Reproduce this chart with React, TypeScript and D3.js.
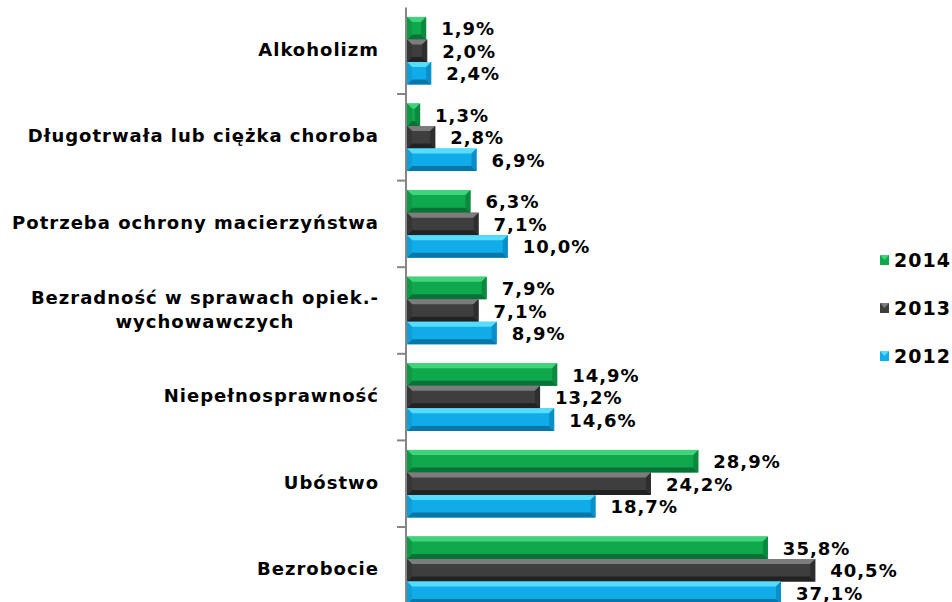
import React, { useEffect, useRef } from 'react';
import { select, scaleLinear, scaleBand } from 'd3';

const categories = [
  'Alkoholizm',
  'Długotrwała lub ciężka choroba',
  'Potrzeba ochrony macierzyństwa',
  'Bezradność w sprawach opiek.-|wychowawczych',
  'Niepełnosprawność',
  'Ubóstwo',
  'Bezrobocie',
];
const years = ['2014', '2013', '2012'];
const values2014 = [1.9, 1.3, 6.3, 7.9, 14.9, 28.9, 35.8];
const values2013 = [2.0, 2.8, 7.1, 7.1, 13.2, 24.2, 40.5];
const values2012 = [2.4, 6.9, 10.0, 8.9, 14.6, 18.7, 37.1];

const seriesValues: Record<string, number[]> = {
  '2014': values2014,
  '2013': values2013,
  '2012': values2012,
};

// base / light / dark / side shades for the bevelled bars
const palette: Record<string, { base: string; light: string; dark: string; side: string; left: string }> = {
  '2014': { base: '#10a84c', light: '#3fd47c', dark: '#0a7236', side: '#0b8a3f', left: '#0c9a45' },
  '2013': { base: '#3e3e3e', light: '#7c7c7c', dark: '#222222', side: '#2e2e2e', left: '#363636' },
  '2012': { base: '#10acea', light: '#55dcff', dark: '#0a76a8', side: '#0c8fc6', left: '#0e9fd8' },
};

const W = 952;
const H = 602;
const FONT = '"DejaVu Sans", sans-serif';

const App: React.FC = () => {
  const svgRef = useRef<SVGSVGElement | null>(null);

  useEffect(() => {
    const svg = select(svgRef.current);
    svg.selectAll('*').remove();

    const axisX = 406;
    const x = scaleLinear().domain([0, 45]).range([axisX + 1, axisX + 1 + 453.6]);
    const y = scaleBand<string>().domain(categories).range([7.4, 613.6]);
    const inner = scaleBand<string>().domain(years).range([9.5, y.bandwidth() - 9.5]);

    // axis
    const axis = svg.append('g');
    axis.append('line')
      .attr('x1', axisX).attr('x2', axisX)
      .attr('y1', y.range()[0]).attr('y2', H)
      .attr('stroke', '#868686').attr('stroke-width', 2);
    axis.selectAll('line.tick')
      .data(categories.slice(1))
      .enter()
      .append('line')
      .attr('class', 'tick')
      .attr('x1', axisX - 9).attr('x2', axisX)
      .attr('y1', d => y(d)!).attr('y2', d => y(d)!)
      .attr('stroke', '#868686').attr('stroke-width', 2);

    // bars
    const bars = svg.append('g');
    categories.forEach((cat, i) => {
      years.forEach(yr => {
        const v = seriesValues[yr][i];
        const x0 = x(0);
        const x1 = x(v);
        const y0 = y(cat)! + inner(yr)!;
        const y1 = y0 + inner.bandwidth();
        const b = Math.min(5, (x1 - x0) / 2, (y1 - y0) / 2);
        const c = palette[yr];
        const g = bars.append('g');
        g.append('rect')
          .attr('x', x0).attr('y', y0)
          .attr('width', x1 - x0).attr('height', y1 - y0)
          .attr('fill', c.base);
        const poly = (pts: number[][], fill: string) =>
          g.append('polygon').attr('points', pts.map(p => p.join(',')).join(' ')).attr('fill', fill);
        poly([[x0, y0], [x1, y0], [x1 - b, y0 + b], [x0 + b, y0 + b]], c.light);
        poly([[x0, y1], [x1, y1], [x1 - b, y1 - b], [x0 + b, y1 - b]], c.dark);
        poly([[x1, y0], [x1, y1], [x1 - b, y1 - b], [x1 - b, y0 + b]], c.side);
        poly([[x0, y0], [x0, y1], [x0 + b, y1 - b], [x0 + b, y0 + b]], c.left);

        bars.append('text')
          .attr('x', x1 + 15)
          .attr('y', (y0 + y1) / 2 + 2)
          .attr('dominant-baseline', 'middle')
          .attr('font-family', FONT)
          .attr('font-weight', 'bold')
          .attr('font-size', 18)
          .attr('letter-spacing', 1)
          .attr('fill', '#000')
          .text(v.toFixed(1).replace('.', ',') + '%');
      });
    });

    // category labels
    const labels = svg.append('g')
      .attr('font-family', FONT)
      .attr('font-weight', 'bold')
      .attr('font-size', 18)
      .attr('letter-spacing', 1)
      .attr('fill', '#000');
    const labelRight = 379;
    categories.forEach(cat => {
      const lines = cat.split('|');
      const cy = y(cat)! + y.bandwidth() / 2;
      if (lines.length === 1) {
        labels.append('text')
          .attr('x', labelRight)
          .attr('y', cy)
          .attr('text-anchor', 'end')
          .attr('dominant-baseline', 'middle')
          .text(cat);
      } else {
        const t = labels.append('text').attr('text-anchor', 'middle');
        lines.forEach((ln, k) => {
          t.append('tspan')
            .attr('x', 0)
            .attr('y', cy + (k - (lines.length - 1) / 2) * 24)
            .attr('dominant-baseline', 'middle')
            .text(ln);
        });
        const widths = (t.selectAll('tspan').nodes() as SVGTextContentElement[]).map(n => n.getComputedTextLength());
        const mid = labelRight - Math.max(...widths) / 2;
        t.selectAll('tspan').attr('x', mid);
      }
    });

    // legend
    const legend = svg.append('g');
    years.forEach((yr, k) => {
      const ly = 260 + k * 48;
      legend.append('rect')
        .attr('x', 880).attr('y', ly - 5)
        .attr('width', 9).attr('height', 10)
        .attr('fill', palette[yr].base);
      legend.append('polygon')
        .attr('points', `880,${ly - 5} 889,${ly - 5} 884.5,${ly}`)
        .attr('fill', palette[yr].light);
      legend.append('text')
        .attr('x', 894)
        .attr('y', ly + 1)
        .attr('dominant-baseline', 'middle')
        .attr('font-family', FONT)
        .attr('font-weight', 'bold')
        .attr('font-size', 19)
        .attr('letter-spacing', 1)
        .attr('fill', '#000')
        .text(yr);
    });
  }, []);

  return (
    <div>
      <svg
        ref={svgRef}
        width={W}
        height={H}
        style={{ position: 'absolute', left: 0, top: 0, background: '#fff' }}
      />
    </div>
  );
};

export default App;
